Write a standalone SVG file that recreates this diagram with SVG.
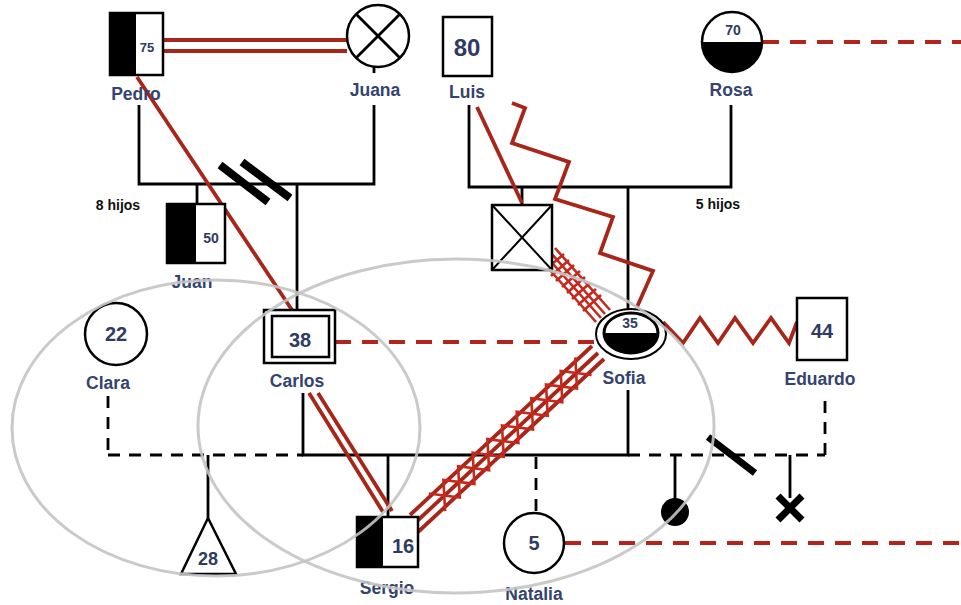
<svg xmlns="http://www.w3.org/2000/svg" width="961" height="605" viewBox="0 0 961 605">
<style>
.k{stroke:#000;stroke-width:2.8;fill:none}
.kd{stroke:#000;stroke-width:2.8;fill:none;stroke-dasharray:12 9}
.r{stroke:#a82519;stroke-width:3.8;fill:none;stroke-linejoin:miter}
.rt{stroke:#c4291c;stroke-width:2.6;fill:none}
.rd{stroke:#b3241c;stroke-width:4;fill:none;stroke-dasharray:16 11}
.sh{stroke:#000;stroke-width:2.5;fill:#fff}
.lbl{font-family:"Liberation Sans",Arial,sans-serif;font-weight:bold;font-size:17.5px;fill:#34446e;text-anchor:middle}
.num{font-family:"Liberation Sans",Arial,sans-serif;font-weight:bold;fill:#2e3b63;text-anchor:middle}
.note{font-family:"Liberation Sans",Arial,sans-serif;font-weight:bold;font-size:14px;fill:#111;text-anchor:middle}
.g{stroke:#c4c4c4;stroke-width:3;fill:none;opacity:0.9}
</style>
<rect width="961" height="605" fill="#fff"/>
<g id="connectors">
  <!-- Pedro-Juana marriage -->
  <polyline class="k" points="139,105 139,184 374,184 374,105"/>
  <line class="k" x1="374" y1="67" x2="374" y2="73"/>
  <line class="k" x1="197" y1="184" x2="197" y2="204"/>
  <line class="k" x1="297" y1="184" x2="297" y2="310"/>
  <line stroke="#000" stroke-width="8" x1="220" y1="165" x2="268" y2="202"/>
  <line stroke="#000" stroke-width="8" x1="242" y1="162" x2="290" y2="198"/>
  <!-- Luis-Rosa marriage -->
  <polyline class="k" points="469,105 469,187 731,187 731,105"/>
  <line class="k" x1="522" y1="187" x2="522" y2="205"/>
  <line class="k" x1="628" y1="187" x2="628" y2="309"/>
  <!-- Lower unions -->
  <line class="kd" x1="108" y1="396" x2="108" y2="455"/>
  <line class="kd" x1="108" y1="455" x2="303" y2="455"/>
  <polyline class="k" points="303,393 303,455 628,455 628,390"/>
  <line class="kd" x1="628" y1="455" x2="825" y2="455"/>
  <line class="kd" x1="825" y1="455" x2="825" y2="394"/>
  <line class="k" x1="208" y1="455" x2="208" y2="518"/>
  <line class="k" x1="388" y1="455" x2="388" y2="517"/>
  <line class="kd" x1="536" y1="457" x2="536" y2="513"/>
  <line class="k" x1="675" y1="455" x2="675" y2="500"/>
  <line class="k" x1="790" y1="455" x2="790" y2="498"/>
  <line stroke="#000" stroke-width="7" x1="708" y1="437" x2="755" y2="473"/>
  <!-- Emotional relations -->
  <line class="r" x1="163" y1="40" x2="347" y2="40"/>
  <line class="r" x1="163" y1="51" x2="347" y2="51"/>
  <line class="r" x1="137" y1="77" x2="292" y2="310"/>
  <line class="r" x1="477" y1="107" x2="522" y2="203"/>
  <polyline class="r" points="512,103 525,108 512,143 569,162 555,199 613,217 600,253 653,271 637,307"/>
  <polyline class="r" points="663,322 683,343 700,318 718,343 735,318 753,343 771,318 789,343 797,322"/>
  <line class="r" x1="309" y1="393" x2="383" y2="512"/>
  <line class="r" x1="318" y1="393" x2="392" y2="511"/>
  <line class="rd" x1="335" y1="342" x2="596" y2="342"/>
  <line class="rd" x1="763" y1="42" x2="961" y2="42"/>
  <line class="rd" x1="565" y1="543" x2="961" y2="543"/>
  <!-- Luis/Rosa child to Sofia bundle -->
  <g class="rt" stroke-width="3">
    <line x1="541" y1="260" x2="596" y2="322"/>
    <line x1="546" y1="256" x2="601" y2="318"/>
    <line x1="550" y1="252" x2="605" y2="314"/>
    <line x1="555" y1="248" x2="610" y2="310"/>
    <line x1="546" y1="269" x2="564" y2="254"/>
    <line x1="551" y1="276" x2="569" y2="260"/>
    <line x1="556" y1="281" x2="574" y2="265"/>
    <line x1="562" y1="287" x2="580" y2="271"/>
    <line x1="567" y1="293" x2="585" y2="277"/>
    <line x1="572" y1="299" x2="590" y2="283"/>
    <line x1="578" y1="305" x2="596" y2="289"/>
    <line x1="583" y1="311" x2="601" y2="295"/>
  </g>
  <!-- Sofia to Sergio bundle -->
  <line class="r" x1="592" y1="346" x2="410" y2="515"/>
  <line class="r" x1="598" y1="353" x2="416" y2="522"/>
  <line class="r" x1="604" y1="359" x2="418" y2="532"/>
  <polyline class="rt" points="575.3,357.4 577,388.6 546,384.6 547.7,415.8 516.7,411.8 518.4,443 487.4,439.1 489.1,470.3 458.1,466.3 459.8,497.5 428.8,493.5"/>
  <polyline class="rt" points="591.6,375 560.7,371 562.3,402.2 531.3,398.2 533,429.4 502,425.5 503.7,456.7 472.7,452.7 474.4,483.9 443.4,479.9 445.1,511.1"/>
</g>
<g id="pedro">
  <rect class="sh" x="110" y="13" width="53" height="62"/>
  <rect x="110" y="13" width="26" height="62" fill="#000"/>
  <text class="num" x="147" y="52" font-size="13">75</text>
  <text class="lbl" x="136" y="100">Pedro</text>
</g>
<g id="juana">
  <circle class="sh" cx="378" cy="36" r="31"/>
  <line class="k" x1="356" y1="14" x2="400" y2="58"/>
  <line class="k" x1="400" y1="14" x2="356" y2="58"/>
  <text class="lbl" x="375" y="96">Juana</text>
</g>
<g id="luis">
  <rect class="sh" x="443" y="17" width="49" height="59"/>
  <text class="num" x="467" y="56" font-size="24">80</text>
  <text class="lbl" x="467" y="98">Luis</text>
</g>
<g id="rosa">
  <circle class="sh" cx="732" cy="42" r="30"/>
  <path d="M702,42 A30,30 0 0 0 762,42 Z" fill="#000"/>
  <text class="num" x="733" y="35" font-size="14">70</text>
  <text class="lbl" x="731" y="96">Rosa</text>
</g>
<g id="juan">
  <rect class="sh" x="167" y="204" width="58" height="59"/>
  <rect x="167" y="204" width="29" height="59" fill="#000"/>
  <text class="num" x="211" y="243" font-size="14">50</text>
  <text class="lbl" x="192" y="288">Juan</text>
</g>
<g id="hijos8"><text class="note" x="118" y="210">8 hijos</text></g>
<g id="hijos5"><text class="note" x="718" y="209">5 hijos</text></g>
<g id="hijo-fallecido">
  <rect class="sh" x="492" y="205" width="60" height="65"/>
  <line stroke="#000" stroke-width="2" x1="492" y1="205" x2="552" y2="270"/>
  <line stroke="#000" stroke-width="2" x1="552" y1="205" x2="492" y2="270"/>
</g>
<g id="clara">
  <circle class="sh" cx="116" cy="334" r="31"/>
  <text class="num" x="116" y="341" font-size="20">22</text>
  <text class="lbl" x="108" y="389">Clara</text>
</g>
<g id="carlos">
  <rect class="sh" x="264" y="310" width="71" height="53"/>
  <rect class="sh" x="272" y="316" width="57" height="41"/>
  <text class="num" x="300" y="347" font-size="20">38</text>
  <text class="lbl" x="297" y="387">Carlos</text>
</g>
<g id="sofia">
  <ellipse cx="631" cy="334" rx="35" ry="25" fill="#fff" stroke="#000" stroke-width="2"/>
  <ellipse cx="631" cy="333" rx="27" ry="20" fill="#fff" stroke="#000" stroke-width="3"/>
  <path d="M604,333 A27,20 0 0 0 658,333 Z" fill="#000"/>
  <text class="num" x="630" y="328" font-size="14">35</text>
  <text class="lbl" x="624" y="384">Sofia</text>
</g>
<g id="eduardo">
  <rect class="sh" x="797" y="298" width="50" height="62"/>
  <text class="num" x="822" y="338" font-size="20">44</text>
  <text class="lbl" x="820" y="385">Eduardo</text>
</g>
<g id="hijo-28">
  <polygon class="sh" points="208,518 236,574 181,574"/>
  <text class="num" x="208" y="565" font-size="18">28</text>
</g>
<g id="sergio">
  <rect class="sh" x="357" y="517" width="61" height="50"/>
  <rect x="357" y="517" width="26" height="50" fill="#000"/>
  <text class="num" x="403" y="553" font-size="20">16</text>
  <text class="lbl" x="387" y="594">Sergio</text>
</g>
<g id="natalia">
  <circle class="sh" cx="534" cy="543" r="30"/>
  <text class="num" x="534" y="550" font-size="20">5</text>
  <text class="lbl" x="534" y="600">Natalia</text>
</g>
<g id="aborto-espontaneo"><circle cx="675" cy="512" r="14" fill="#000"/></g>
<g id="aborto-provocado">
  <line stroke="#000" stroke-width="7" x1="778" y1="496" x2="802" y2="520"/>
  <line stroke="#000" stroke-width="7" x1="802" y1="496" x2="778" y2="520"/>
</g>
<g id="hogares">
  <ellipse class="g" cx="216" cy="428" rx="204" ry="148"/>
  <ellipse class="g" cx="456" cy="426" rx="258" ry="167"/>
</g>
</svg>
